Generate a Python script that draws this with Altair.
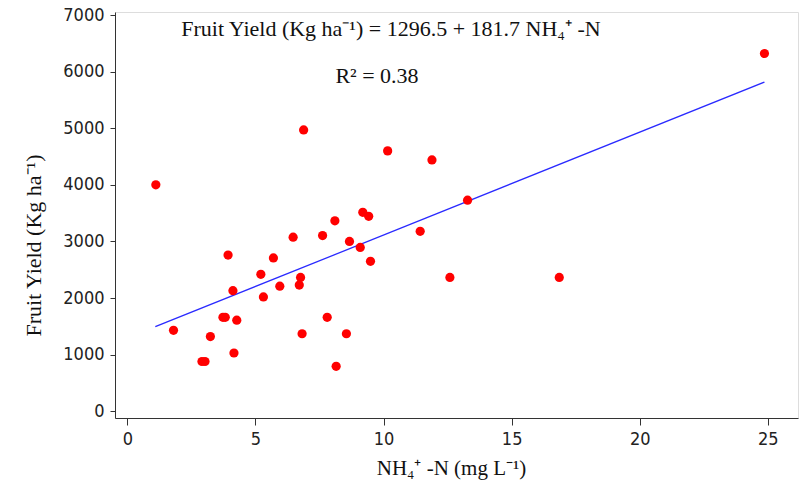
import altair as alt
import pandas as pd

# NH4+-N (mg L-1) and fruit yield (Kg ha-1)
nh4 = [1.11, 1.80, 2.91, 3.03, 3.24, 3.73, 3.82, 3.93, 4.12, 4.16, 4.27,
       5.21, 5.31, 5.70, 5.95, 6.47, 6.71, 6.76, 6.82, 6.88, 7.62, 7.80,
       8.10, 8.15, 8.55, 8.67, 9.09, 9.19, 9.42, 9.49, 10.16, 11.43, 11.89,
       12.59, 13.28, 16.86, 24.87]
yield_kg = [4000, 1430, 880, 880, 1320, 1660, 1660, 2760, 2130, 1030, 1610,
            2420, 2020, 2710, 2210, 3075, 2230, 2365, 1370, 4970, 3105, 1660,
            3365, 795, 1370, 3000, 2895, 3515, 3445, 2650, 4600, 3180, 4440,
            2365, 3730, 2365, 6320]

# Regression line stated on the chart
intercept = 1296.5
slope = 181.7
line_x = [1.09, 24.87]

x_ticks = [0, 5, 10, 15, 20, 25]
y_ticks = [0, 1000, 2000, 3000, 4000, 5000, 6000, 7000]

eq_text = "Fruit Yield (Kg ha\u207b\u00b9) =  1296.5 + 181.7 NH\u2084\u207a -N"
r2_text = "R\u00b2 = 0.38"
x_title = "NH\u2084\u207a -N (mg L\u207b\u00b9)"
y_title = "Fruit Yield (Kg ha\u207b\u00b9)"

pts = pd.DataFrame({"x": nh4, "y": yield_kg})
ln = pd.DataFrame({"x": line_x})

serif = "Liberation Serif"
tickfont = "DejaVu Sans Condensed"

xscale = alt.Scale(domain=[-0.484, 26.18], nice=False, zero=False)
yscale = alt.Scale(domain=[-118, 7053], nice=False, zero=False)

xaxis = alt.Axis(values=x_ticks, grid=False, title=x_title, format="d",
                 domainColor="#333333", tickColor="#333333", tickSize=7,
                 labelFont=tickfont, labelFontSize=18, labelColor="#222222",
                 labelPadding=5,
                 titleFont=serif, titleFontSize=21, titleFontWeight="normal",
                 titleColor="#111111", titleX=336, titleY=50,
                 titleBaseline="middle", titleAlign="center")
yaxis = alt.Axis(values=y_ticks, grid=False, title=y_title, format="d",
                 domainColor="#333333", tickColor="#333333", tickSize=5,
                 labelFont=tickfont, labelFontSize=18, labelColor="#222222",
                 labelPadding=6,
                 titleFont=serif, titleFontSize=22, titleFontWeight="normal",
                 titleColor="#111111", titleAngle=270, titleX=-82, titleY=233,
                 titleBaseline="middle", titleAlign="center")

points = alt.Chart(pts).mark_circle(size=85, color="#ff0000", opacity=1).encode(
    x=alt.X("x:Q", scale=xscale, axis=xaxis),
    y=alt.Y("y:Q", scale=yscale, axis=yaxis),
)

line = alt.Chart(ln).transform_calculate(
    y=f"{intercept} + {slope} * datum.x"
).mark_line(color="#2a2aff", strokeWidth=1.3).encode(
    x=alt.X("x:Q", scale=xscale),
    y=alt.Y("y:Q", scale=yscale),
)

eq = alt.Chart(pd.DataFrame({"t": [eq_text]})).mark_text(
    font=serif, fontSize=22, color="#111111", align="center", baseline="middle"
).encode(x=alt.value(276), y=alt.value(17), text="t:N")

r2 = alt.Chart(pd.DataFrame({"t": [r2_text]})).mark_text(
    font=serif, fontSize=22, color="#111111", align="center", baseline="middle"
).encode(x=alt.value(262), y=alt.value(64), text="t:N")

chart = alt.layer(line, points, eq, r2).properties(
    width=683, height=406,
    padding={"left": 115, "top": 12, "right": 2, "bottom": 65},
    autosize=alt.AutoSizeParams(type="none"),
).configure_view(stroke=None).configure(background="white")

chart.save("out.html", embed_options={"renderer": "svg", "actions": False})
